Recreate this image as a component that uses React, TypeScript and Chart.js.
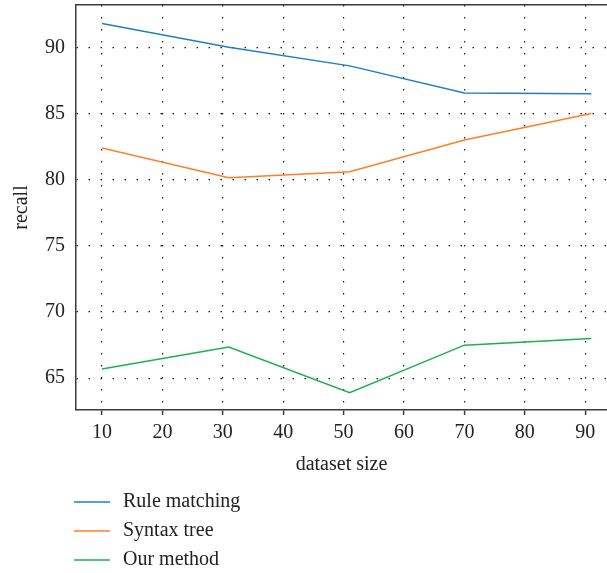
import React, { useEffect, useRef } from "react";
import { Chart, registerables } from "chart.js";

Chart.register(...registerables);

const xValues = [10, 31, 51, 70, 91];
const seriesLabels = ["Rule matching", "Syntax tree", "Our method"];
const ruleMatching = [91.8, 90.0, 88.6, 86.55, 86.5];
const syntaxTree = [82.4, 80.15, 80.6, 83.0, 85.0];
const ourMethod = [65.7, 67.35, 63.9, 67.5, 68.0];
const xTicks = [10, 20, 30, 40, 50, 60, 70, 80, 90];
const yTicks = [65, 70, 75, 80, 85, 90];
const colors = ["#1f7fc0", "#ff7f27", "#1cb04f"];

const FONT = "'Liberation Serif', 'DejaVu Serif', serif";
const AXIS = "#3a3a3a";
const FS = 20;

const legendPlugin = {
  id: "stackedLegend",
  afterDraw(chart: any) {
    const ctx = chart.ctx;
    ctx.save();
    ctx.font = `${FS}px ${FONT}`;
    ctx.textBaseline = "middle";
    ctx.fillStyle = "#222";
    chart.data.datasets.forEach((ds: any, i: number) => {
      const y = 502 + i * 29;
      ctx.strokeStyle = ds.borderColor;
      ctx.lineWidth = 1.5;
      ctx.beginPath();
      ctx.moveTo(74, y);
      ctx.lineTo(110, y);
      ctx.stroke();
      ctx.fillText(ds.label, 123, y);
    });
    ctx.restore();
  },
};

export default function App() {
  const ref = useRef<HTMLCanvasElement>(null);
  useEffect(() => {
    document.body.style.margin = "0";
    const series = [ruleMatching, syntaxTree, ourMethod];
    const chart = new Chart(ref.current!, {
      type: "line",
      data: {
        datasets: series.map((s, i) => ({
          label: seriesLabels[i],
          data: s.map((v, j) => ({ x: xValues[j], y: v })),
          borderColor: colors[i],
          backgroundColor: colors[i],
          borderWidth: 1.5,
          pointRadius: 0,
          tension: 0,
          fill: false,
        })),
      },
      options: {
        animation: false,
        responsive: false,
        layout: { padding: { left: 10, right: 0, top: 5, bottom: 96 } },
        plugins: { legend: { display: false }, tooltip: { enabled: false } },
        scales: {
          x: {
            type: "linear",
            min: 5.7,
            max: 93.6,
            afterBuildTicks: (scale: any) => {
              scale.ticks = xTicks.map((v) => ({ value: v }));
            },
            afterFit: (scale: any) => {
              scale.paddingLeft = 0;
              scale.paddingRight = 0;
            },
            grid: {
              color: "#1a1a1a",
              lineWidth: 1.2,
              drawTicks: true,
              tickLength: 5,
              tickColor: AXIS,
              tickWidth: 1.5,
            },
            border: { display: true, color: AXIS, width: 1.5, dash: [1.5, 10.5] },
            ticks: {
              color: "#222",
              font: { family: FONT, size: FS },
              padding: 6,
              maxRotation: 0,
            },
            title: {
              display: true,
              text: "dataset size",
              color: "#222",
              font: { family: FONT, size: FS },
              padding: { top: 2, bottom: 0 },
            },
          },
          xTop: {
            type: "linear",
            position: "top",
            min: 5.7,
            max: 93.6,
            afterFit: (scale: any) => {
              scale.height = 0;
            },
            grid: { display: false, drawTicks: false },
            ticks: { display: false },
            border: { display: true, color: AXIS, width: 1.5 },
          },
          y: {
            type: "linear",
            min: 62.6,
            max: 93.2,
            afterBuildTicks: (scale: any) => {
              scale.ticks = yTicks.map((v) => ({ value: v }));
            },
            afterFit: (scale: any) => {
              scale.paddingTop = 0;
              scale.paddingBottom = 0;
            },
            grid: { color: "#1a1a1a", lineWidth: 1.2, drawTicks: false },
            border: { display: true, color: AXIS, width: 1.5, dash: [1.5, 10.5] },
            ticks: {
              color: "#222",
              font: { family: FONT, size: FS },
              padding: 11,
            },
            title: {
              display: true,
              text: "recall",
              color: "#222",
              font: { family: FONT, size: FS },
              padding: { top: 0, bottom: 0 },
            },
          },
        },
      },
      plugins: [legendPlugin],
    });
    return () => chart.destroy();
  }, []);
  return (
    <div style={{ width: 607, height: 573 }}>
      <canvas ref={ref} width={607} height={573} />
    </div>
  );
}
